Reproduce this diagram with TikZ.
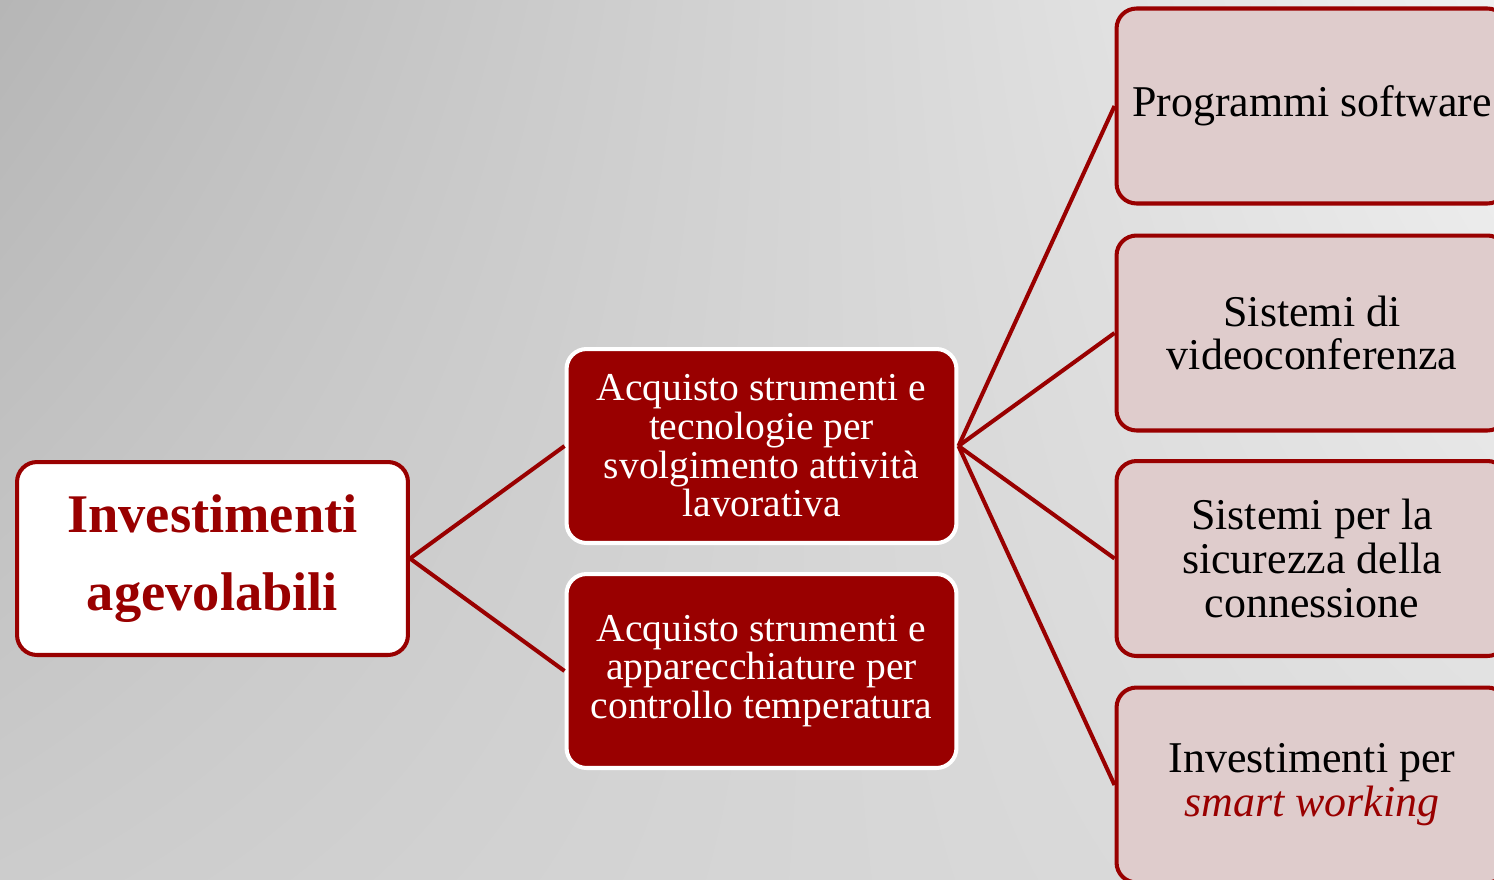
\documentclass[tikz,border=0pt]{standalone}
\usepackage{fontspec}
\setmainfont{Liberation Serif}
\usetikzlibrary{shadings}
\definecolor{dred}{HTML}{990000}
\definecolor{pinkfill}{HTML}{DFCCCC}
\definecolor{bgul}{RGB}{182,182,182}
\definecolor{bgur}{RGB}{240,240,240}
\definecolor{bgll}{RGB}{204,204,204}
\definecolor{bglr}{RGB}{222,222,222}
\begin{document}
\begin{tikzpicture}[x=0.02cm,y=-0.02cm,
  rootbox/.style={draw=dred, fill=white, line width=2.3pt, rounded corners=0.4cm,
    minimum width=7.82cm, minimum height=3.86cm, align=center, text=dred,
    font=\fontsize{31}{44}\selectfont\bfseries, inner sep=0pt},
  midbox/.style={draw=white, fill=dred, line width=2.3pt, rounded corners=0.4cm,
    minimum width=7.8cm, minimum height=3.88cm, align=center, text=white,
    font=\fontsize{22.5}{22}\selectfont, inner sep=0pt},
  leafbox/.style={draw=dred, fill=pinkfill, line width=2.3pt, rounded corners=0.4cm,
    minimum width=7.82cm, minimum height=3.9cm, align=center, text=black,
    font=\fontsize{25}{25}\selectfont, inner sep=0pt},
  conn/.style={draw=dred, line width=2.3pt}]
\useasboundingbox (0,0) rectangle (1494,879);
\clip (0,0) rectangle (1494,879);
\shade[upper left=bgul, upper right=bgur, lower left=bgll, lower right=bglr]
  (0,0) rectangle (1494,879);

\node[rootbox] (root) at (212.5,558.5) {Investimenti\\agevolabili};
\node[midbox] (m1) at (761.5,446) {Acquisto strumenti e\\tecnologie per\\svolgimento attività\\lavorativa};
\node[midbox] (m2) at (761.5,671) {Acquisto strumenti e\\apparecchiature per\\controllo temperatura};
\node[leafbox] (r1) at (1312,106) {Programmi software};
\node[leafbox] (r2) at (1312,333) {Sistemi di\\videoconferenza};
\node[leafbox] (r3) at (1312,558.5) {Sistemi per la\\sicurezza della\\connessione};
\node[leafbox] (r4) at (1312,785) {Investimenti per\\\textcolor{dred}{\itshape smart working}};

\draw[conn] (root.east) -- (m1.west);
\draw[conn] (root.east) -- (m2.west);
\draw[conn] (m1.east) -- (r1.west);
\draw[conn] (m1.east) -- (r2.west);
\draw[conn] (m1.east) -- (r3.west);
\draw[conn] (m1.east) -- (r4.west);
\end{tikzpicture}
\end{document}
